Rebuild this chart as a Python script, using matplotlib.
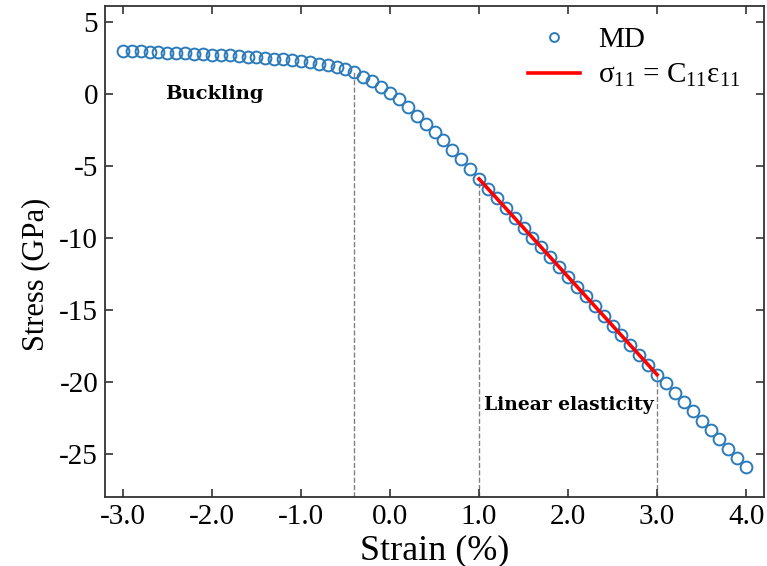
import numpy as np
import matplotlib
matplotlib.use("Agg")
import matplotlib.pyplot as plt

plt.rcParams.update({"font.family": ["Liberation Serif", "DejaVu Serif"],
                     "mathtext.fontset": "custom",
                     "mathtext.rm": "Liberation Serif",
                     "mathtext.it": "Liberation Serif",
                     "axes.unicode_minus": False})

BLUE, RED = "#2b7bba", "#ff0000"

# MD stress-strain data (strain in %, stress in GPa)
strain = np.linspace(-3.0, 4.0, 71)
stress = [3.00, 2.98, 2.96, 2.93, 2.91, 2.88, 2.86, 2.83, 2.80, 2.77,
          2.74, 2.71, 2.68, 2.64, 2.60, 2.56, 2.51, 2.46, 2.40, 2.34,
          2.27, 2.19, 2.10, 1.99, 1.87, 1.72, 1.50, 1.20, 0.89, 0.50,
          0.10, -0.38, -0.92, -1.50, -2.06, -2.64, -3.22, -3.87, -4.52, -5.22,
          -5.90, -6.58, -7.26, -7.94, -8.62, -9.30, -9.98, -10.66, -11.34, -12.02,
          -12.70, -13.38, -14.06, -14.74, -15.42, -16.10, -16.78, -17.46, -18.14, -18.82,
          -19.50, -20.10, -20.75, -21.40, -22.05, -22.70, -23.35, -24.00, -24.65, -25.30,
          -25.95]
# linear fit over the elastic range
fit_strain = [1.0, 3.0]
fit_stress = [-5.90, -19.50]
# region boundaries (dashed guides)
guide_strain = [-0.4, 1.0, 3.0]
guide_stress = [1.50, -5.90, -19.50]

xticks = [-3.0, -2.0, -1.0, 0.0, 1.0, 2.0, 3.0, 4.0]
yticks = [5, 0, -5, -10, -15, -20, -25]

fig = plt.figure(figsize=(7.67, 5.66), dpi=100)
ax = fig.add_axes([0.137, 0.122, 0.859, 0.867])

for gx, gy in zip(guide_strain, guide_stress):
    ax.plot([gx, gx], [-28, gy], ls="--", color="gray", lw=1.0, zorder=1)

ax.plot(strain, stress, "o", ms=8.5, mfc="none", mec=BLUE, mew=1.4, label="MD", zorder=2)
ax.plot(fit_strain, fit_stress, "-", color=RED, lw=2.6, zorder=3,
        label="σ$_{11}$ = C$_{11}$ε$_{11}$")

ax.text(-2.53, 0.0, "Buckling", family="DejaVu Serif", fontweight="bold",
        fontsize=14, va="center", ha="left")
ax.text(1.06, -21.6, "Linear elasticity", family="DejaVu Serif", fontweight="bold",
        fontsize=13.5, va="center", ha="left")

ax.set_xlim(-3.2, 4.2)
ax.set_ylim(-28, 6.1)
ax.set_xticks(xticks)
ax.set_xticklabels([f"{v:.1f}" for v in xticks])
ax.set_yticks(yticks)
ax.set_yticklabels([f"{v:d}" for v in yticks])
ax.tick_params(direction="in", length=6, width=1.2, top=True, right=True,
               labelsize=21, color="#333333", pad=5)
for s in ax.spines.values():
    s.set_linewidth(1.3)
    s.set_color("#333333")

ax.set_xlabel("Strain (%)", fontsize=26, labelpad=3)
ax.set_ylabel("Stress (GPa)", fontsize=22)
ax.yaxis.set_label_coords(-0.083, 0.454)

ax.legend(loc="upper right", bbox_to_anchor=(0.995, 1.0), frameon=False, fontsize=21,
          handlelength=1.8, markerscale=0.75, borderaxespad=0.3, handletextpad=0.6,
          labelspacing=0.3)

fig.savefig("out.png", dpi=100)
